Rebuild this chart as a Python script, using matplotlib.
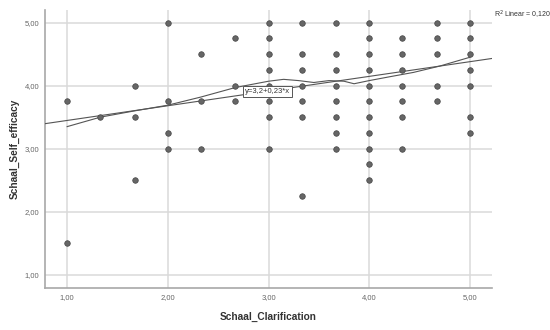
import numpy as np
import matplotlib
matplotlib.use('Agg')
from matplotlib import pyplot as plt

plt.rcParams['font.family'] = ['Liberation Sans', 'DejaVu Sans']

# scatter points (x = Schaal_Clarification, y = Schaal_Self_efficacy)
pts = {
    1.0: [3.75, 1.5],
    1.33: [3.5],
    1.67: [4.0, 3.5, 2.5],
    2.0: [5.0, 3.75, 3.25, 3.0],
    2.33: [4.5, 3.75, 3.0],
    2.67: [4.75, 4.0, 3.75],
    3.0: [5.0, 4.75, 4.5, 4.25, 4.0, 3.75, 3.5, 3.0],
    3.33: [5.0, 4.5, 4.25, 4.0, 3.75, 3.5, 2.25],
    3.67: [5.0, 4.5, 4.25, 4.0, 3.75, 3.5, 3.25, 3.0],
    4.0: [5.0, 4.75, 4.5, 4.25, 4.0, 3.75, 3.5, 3.25, 3.0, 2.75, 2.5],
    4.33: [4.75, 4.5, 4.25, 4.0, 3.75, 3.5, 3.0],
    4.67: [5.0, 4.75, 4.5, 4.0, 3.75],
    5.0: [5.0, 4.75, 4.5, 4.25, 4.0, 3.5, 3.25],
}
xs = [x for x, ys in pts.items() for _ in ys]
ys = [y for x, yl in pts.items() for y in yl]

# linear fit as drawn
intercept = 3.215
slope = 0.233

# loess curve
loess_x = [1.0, 1.33, 1.67, 2.0, 2.33, 2.67, 3.0, 3.15, 3.3, 3.45, 3.6, 3.75, 3.85, 4.0, 4.2, 4.44, 4.7, 5.0]
loess_y = [3.35, 3.50, 3.60, 3.69, 3.82, 3.97, 4.07, 4.10, 4.08, 4.05, 4.08, 4.07, 4.03, 4.08, 4.14, 4.21, 4.31, 4.45]

xlim = (0.78, 5.22)
ylim = (0.79, 5.2)
ticks = [1, 2, 3, 4, 5]

fig = plt.figure(figsize=(5.5, 3.3), dpi=100)
ax = fig.add_axes([45 / 550, 1 - 288 / 330, 447 / 550, 278 / 330])

ax.set_xlim(*xlim)
ax.set_ylim(*ylim)
ax.set_xticks(ticks)
ax.set_yticks(ticks)
ax.set_xticklabels([f'{t:.2f}'.replace('.', ',') for t in ticks])
ax.set_yticklabels([f'{t:.2f}'.replace('.', ',') for t in ticks])
ax.tick_params(length=0, labelsize=5.5, colors='#666666', pad=4)
ax.grid(True, color='#dadada', lw=1.1)
ax.set_axisbelow(True)
for s in ['top', 'right']:
    ax.spines[s].set_visible(False)
for s in ['left', 'bottom']:
    ax.spines[s].set_color('#a8a8a8')
    ax.spines[s].set_linewidth(1.2)

lx = np.array(xlim)
ax.plot(lx, intercept + slope * lx, color='#555555', lw=0.8, zorder=3)
ax.plot(loess_x, loess_y, color='#555555', lw=0.8, zorder=3)

ax.scatter(xs, ys, s=16, color='#666666', edgecolors='#444444', linewidths=0.5, zorder=4)

ax.text(2.77, 3.905, 'y=3,2+0,23*x', fontsize=5.5, color='#333333', va='center', ha='left',
        bbox=dict(boxstyle='square,pad=0.25', fc='white', ec='#555555', lw=0.7), zorder=5)

fig.text(494 / 550, 1 - 15 / 330, 'R$^2$ Linear = 0,120', fontsize=5, color='#333333', va='center', ha='left')

ax.set_xlabel('Schaal_Clarification', fontsize=7.3, fontweight='bold', color='#333333', labelpad=8)
ax.set_ylabel('Schaal_Self_efficacy', fontsize=7.3, fontweight='bold', color='#333333', labelpad=4)

fig.savefig('out.png', dpi=100)
